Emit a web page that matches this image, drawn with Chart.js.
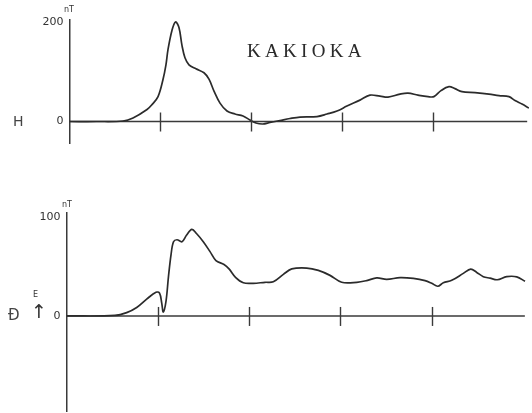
<!DOCTYPE html>
<html>
<head>
<meta charset="utf-8">
<script src="https://cdn.jsdelivr.net/npm/chart.js@4.4.1/dist/chart.umd.min.js"></script>
<style>
  html, body { margin: 0; padding: 0; background: #fff; }
  #wrap { position: relative; width: 532px; height: 413px; overflow: hidden; background: #fff; }
  .panel { position: absolute; left: 0; width: 532px; }
  .lbl { position: absolute; color: #333; font-family: "DejaVu Sans", sans-serif; white-space: nowrap; line-height: 1; }
  #title { font-family: "Liberation Serif", "DejaVu Serif", serif; font-size: 19px; letter-spacing: 4.3px; color: #2a2a2a; }
</style>
</head>
<body>
<div id="wrap">
  <div class="panel" style="top:0;height:190px"><canvas id="chartH" width="532" height="190"></canvas></div>
  <div class="panel" style="top:190px;height:240px"><canvas id="chartD" width="532" height="240"></canvas></div>

  <div class="lbl" id="title" style="left:247px;top:41px">KAKIOKA</div>
  <div class="lbl" style="left:13px;top:114px;font-size:14px;color:#444">H</div>
  <div class="lbl" style="left:64px;top:6px;font-size:8px">nT</div>
  <div class="lbl" style="left:62px;top:201px;font-size:8px">nT</div>
  <div class="lbl" style="left:8px;top:308px;font-size:15px;color:#444">Đ</div>
  <div class="lbl" style="left:31px;top:302px;font-size:19px;color:#333">↑</div>
  <div class="lbl" style="left:33px;top:291px;font-size:8px;color:#333">E</div>
</div>

<script>
// Hours after the start of the record (tick every hour) and field values in nT.
const hourTicks = [1, 2, 3, 4];

// Horizontal component H
const hTime = [0, 0.30, 0.588, 0.698, 0.852, 0.907, 0.973, 1.027, 1.060, 1.082, 1.126, 1.165,
  1.203, 1.236, 1.269, 1.313, 1.390, 1.478, 1.533, 1.588, 1.654, 1.731, 1.819, 1.907,
  1.984, 2.049, 2.126, 2.203, 2.313, 2.423, 2.533, 2.720, 2.830, 2.940, 3.049, 3.192,
  3.302, 3.412, 3.500, 3.632, 3.720, 3.830, 3.940, 4.005, 4.082, 4.170, 4.236, 4.313,
  4.456, 4.610, 4.720, 4.830, 4.896, 4.973, 5.049];
const hValues = [0, 0, 1, 7, 24, 34, 50, 84, 114, 144, 183, 200,
  189, 153, 128, 114, 106, 98, 85, 61, 37, 21, 15, 11,
  3, -3, -5, -2, 2, 6, 9, 10, 15, 21, 31, 43,
  53, 51, 49, 55, 57, 53, 50, 50, 62, 70, 66, 60,
  58, 55, 52, 50, 42, 35, 27];

// Declination D (eastward positive)
const dTime = [0, 0.531, 0.659, 0.769, 0.878, 0.980, 1.019, 1.043, 1.060, 1.090, 1.117, 1.145,
  1.172, 1.210, 1.265, 1.314, 1.373, 1.426, 1.498, 1.572, 1.637, 1.725, 1.780, 1.851,
  1.937, 2.046, 2.174, 2.265, 2.375, 2.467, 2.631, 2.758, 2.886, 3.014, 3.179, 3.288,
  3.398, 3.507, 3.653, 3.799, 3.927, 4.000, 4.066, 4.127, 4.219, 4.346, 4.427, 4.493,
  4.565, 4.639, 4.718, 4.821, 4.931, 5.022];
const dValues = [0, 0.5, 3.4, 8.6, 17, 24, 23, 13, 4, 15, 40, 62,
  75, 77, 75, 81.5, 87.5, 83, 75, 65, 56, 52, 47.5, 39,
  33.5, 33, 34, 34.5, 42, 47.5, 48.4, 46, 41, 34, 34, 35.7,
  38.4, 37, 38.7, 37.9, 35.7, 33, 30, 33.5, 36, 43, 47.4, 44,
  39.7, 38.2, 36.6, 39.7, 39.5, 35];

// Labelled values on each vertical axis
const hAxisLabels = [0, 200];
const dAxisLabels = [0, 100];

// End of the drawn zero line, in hours
const hBaselineEnd = 5.03;
const dBaselineEnd = 5.02;

const INK = '#2b2b2b';

// Short marks crossing the zero line at each hour
const hourMarks = {
  id: 'hourMarks',
  afterDatasetsDraw(chart, args, opts) {
    const { ctx, scales: { x, y } } = chart;
    const y0 = y.getPixelForValue(0);
    ctx.save();
    ctx.strokeStyle = opts.color;
    ctx.lineWidth = opts.width;
    for (const t of opts.values) {
      const px = Math.round(x.getPixelForValue(t)) + 0.5;
      ctx.beginPath();
      ctx.moveTo(px, y0 - opts.up);
      ctx.lineTo(px, y0 + opts.down);
      ctx.stroke();
    }
    ctx.restore();
  }
};

function toPoints(xs, ys) { return xs.map((x, i) => ({ x, y: ys[i] })); }

function makePanel(id, cfg) {
  return new Chart(document.getElementById(id), {
    type: 'line',
    data: {
      datasets: [
        {
          data: toPoints(cfg.time, cfg.values),
          borderColor: INK, borderWidth: 1.7, pointRadius: 0,
          tension: 0.35, fill: false
        },
        {
          data: [{ x: 0, y: 0 }, { x: cfg.baselineEnd, y: 0 }],
          borderColor: '#3a3a3a', borderWidth: 1.4, pointRadius: 0, fill: false
        }
      ]
    },
    options: {
      responsive: false,
      animation: false,
      events: [],
      layout: { padding: cfg.padding },
      plugins: {
        legend: { display: false },
        tooltip: { enabled: false },
        hourMarks: { values: hourTicks, color: '#3a3a3a', width: 1.4, up: 9, down: 10 }
      },
      scales: {
        x: { type: 'linear', display: false, min: 0, max: 5.05 },
        y: {
          min: cfg.min, max: cfg.max,
          afterFit(scale) { scale.width = cfg.axisLeft; },
          afterBuildTicks(scale) { scale.ticks = cfg.labels.map(v => ({ value: v })); },
          grid: { display: false, drawTicks: false },
          border: { display: true, color: '#3a3a3a', width: 1.5 },
          ticks: {
            padding: 6, color: '#333',
            font: { family: 'DejaVu Sans', size: 11 },
            callback: v => String(v)
          }
        }
      }
    },
    plugins: [hourMarks]
  });
}

makePanel('chartH', {
  time: hTime, values: hValues, labels: hAxisLabels, baselineEnd: hBaselineEnd,
  min: -44, max: 204, axisLeft: 69.5,
  padding: { top: 20, bottom: 46.6, right: 3, left: 0 }
});

makePanel('chartD', {
  time: dTime, values: dValues, labels: dAxisLabels, baselineEnd: dBaselineEnd,
  min: -96, max: 104, axisLeft: 66.5,
  padding: { top: 23, bottom: 19, right: 4.4, left: 0 }
});
</script>
</body>
</html>
